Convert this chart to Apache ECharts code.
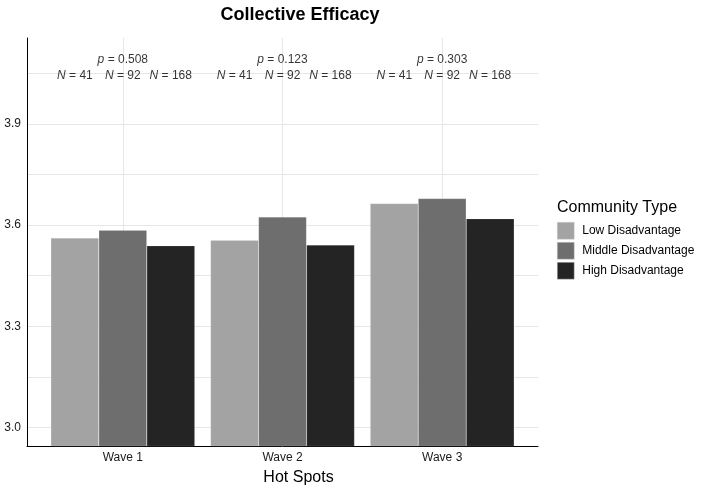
<!DOCTYPE html>
<html>
<head>
<meta charset="utf-8">
<script src="https://cdn.jsdelivr.net/npm/echarts@6/dist/echarts.min.js"></script>
<style>
  html, body { margin: 0; padding: 0; background: #fff; }
  #chart { width: 703px; height: 489px; }
</style>
</head>
<body>
<div id="chart"></div>
<script>
// data
var waves = ['Wave 1', 'Wave 2', 'Wave 3'];
var groups = ['Low Disadvantage', 'Middle Disadvantage', 'High Disadvantage'];
var lowVals = [3.562, 3.555, 3.664];
var midVals = [3.585, 3.624, 3.679];
var highVals = [3.539, 3.541, 3.619];
var pValues = ['0.508', '0.123', '0.303'];
var nCounts = [41, 92, 168];
var yTicks = [3.0, 3.3, 3.6, 3.9];
var yMinor = [3.15, 3.45, 3.75, 4.05];

var colors = ['#a3a3a3', '#6e6e6e', '#242424'];
var font = 'Liberation Sans, Arial, sans-serif';

var chart = echarts.init(document.getElementById('chart'));

function barSeries(name, vals, i) {
  return {
    name: name,
    type: 'bar',
    barWidth: 48,
    barGap: '0%',
    data: vals.map(function (v, k) { return [k + 1, v]; }),
    itemStyle: { color: colors[i], borderColor: 'rgba(255,255,255,0.25)', borderWidth: 0.5 },
    emphasis: { disabled: true }
  };
}

// text above each wave: p value and group sizes
var pData = waves.map(function (w, k) { return { value: [k + 1, 4.090], p: pValues[k] }; });
var nData = [];
waves.forEach(function (w, k) {
  nCounts.forEach(function (n, j) {
    nData.push({ value: [k + 1 + (j - 1) * 0.3, 4.042], n: n });
  });
});

var option = {
  animation: false,
  textStyle: { fontFamily: font },
  title: {
    text: 'Collective Efficacy',
    left: 295,
    textAlign: 'center',
    top: 1,
    textStyle: { fontSize: 18, fontWeight: 'bold', color: '#000', fontFamily: font }
  },
  legend: {
    orient: 'vertical',
    left: 557,
    top: 222,
    padding: 0,
    itemWidth: 17,
    itemHeight: 17,
    itemGap: 2.5,
    icon: 'rect',
    data: groups,
    textStyle: { fontSize: 12, color: '#000', fontFamily: font, padding: [0, 0, 0, 3] },
    itemStyle: { borderColor: '#d0d0d0', borderWidth: 0.5 }
  },
  graphic: [{
    type: 'text',
    left: 557,
    top: 200,
    style: { text: 'Community Type', font: '16px ' + font, fill: '#000' }
  }],
  grid: { left: 27, right: 165, top: 38, bottom: 43, outerBoundsMode: 'none' },
  xAxis: {
    type: 'value',
    min: 0.4,
    max: 3.6,
    name: 'Hot Spots',
    nameLocation: 'middle',
    nameGap: 24,
    nameTextStyle: { fontSize: 16, color: '#000', fontFamily: font, padding: [0, 0, 0, 32] },
    axisLine: { show: true, onZero: false, lineStyle: { color: '#000', width: 1 } },
    axisTick: { show: false, customValues: [1, 2, 3] },
    axisLabel: {
      customValues: [1, 2, 3],
      fontSize: 12, color: '#1a1a1a', margin: 6,
      formatter: function (v) { return waves[Math.round(v) - 1]; }
    },
    splitLine: { show: true, lineStyle: { color: '#e6e6e6', width: 1 } }
  },
  yAxis: {
    type: 'value',
    min: 2.945,
    max: 4.155,
    axisLine: { show: true, lineStyle: { color: '#000', width: 1 } },
    axisTick: { show: false, customValues: yTicks.concat(yMinor) },
    axisLabel: {
      customValues: yTicks,
      fontSize: 12, color: '#1a1a1a', margin: 6,
      formatter: function (v) { return v.toFixed(1); }
    },
    splitLine: { show: true, lineStyle: { color: '#e6e6e6', width: 1 } }
  },
  series: [
    barSeries(groups[0], lowVals, 0),
    barSeries(groups[1], midVals, 1),
    barSeries(groups[2], highVals, 2),
    {
      type: 'scatter',
      symbolSize: 0,
      silent: true,
      data: pData,
      label: {
        show: true, position: 'inside', color: '#000', fontSize: 12,
        formatter: function (d) { return '{i|p} = ' + d.data.p; },
        rich: { i: { fontStyle: 'italic', fontSize: 12, color: '#000' } }
      }
    },
    {
      type: 'scatter',
      symbolSize: 0,
      silent: true,
      data: nData,
      label: {
        show: true, position: 'inside', color: '#000', fontSize: 12,
        formatter: function (d) { return '{i|N} = ' + d.data.n; },
        rich: { i: { fontStyle: 'italic', fontSize: 12, color: '#000' } }
      }
    }
  ]
};

chart.setOption(option);
</script>
</body>
</html>
